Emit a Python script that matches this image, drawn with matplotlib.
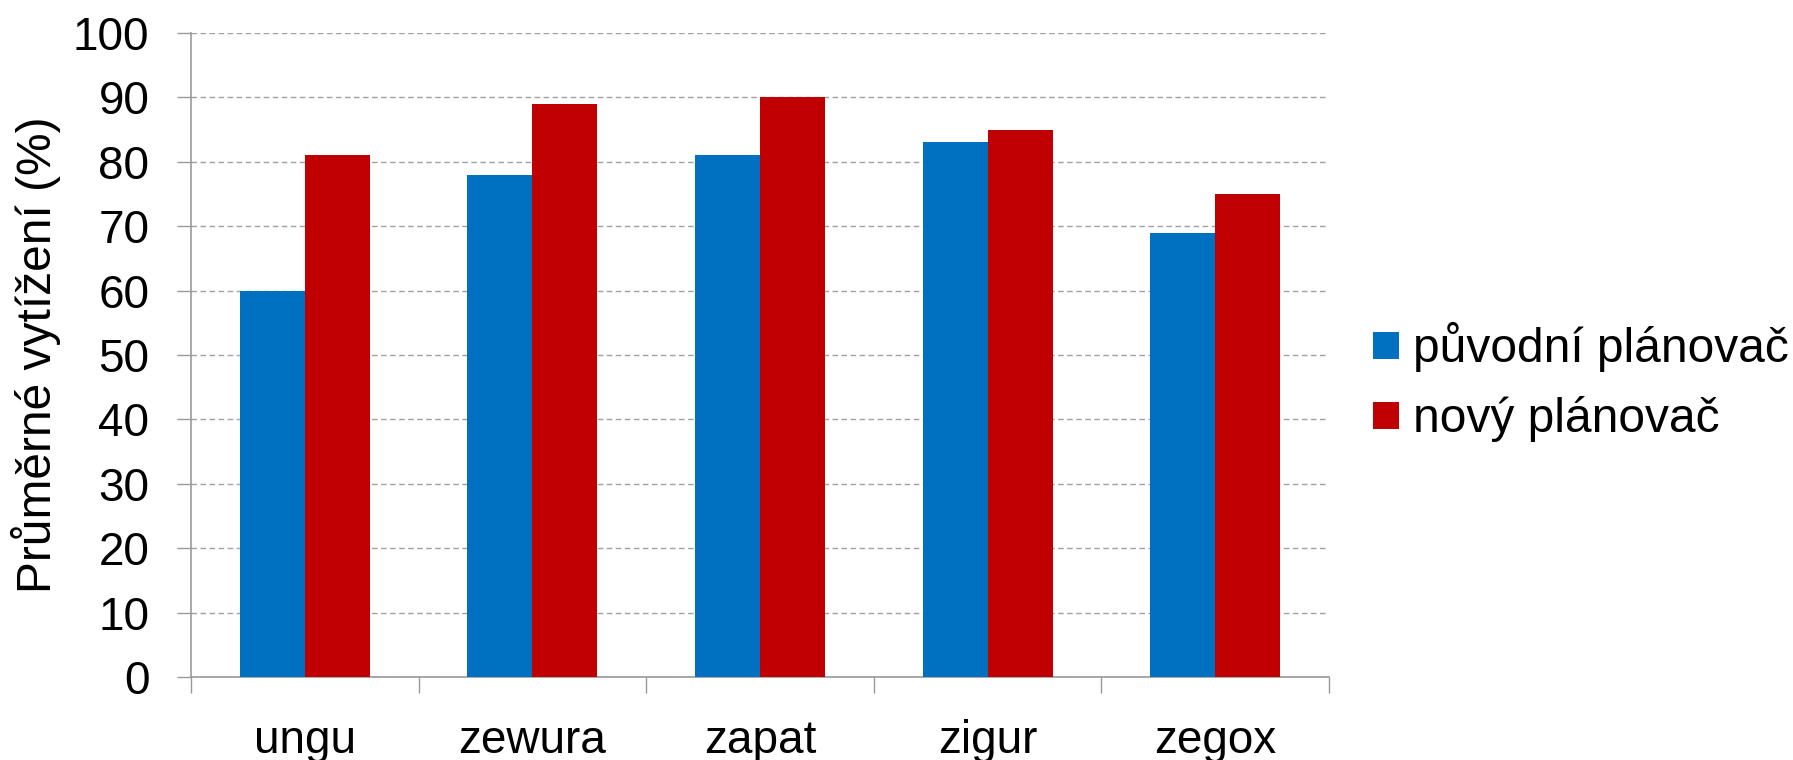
import matplotlib
matplotlib.use("Agg")
import matplotlib.pyplot as plt
import numpy as np

categories = ["ungu", "zewura", "zapat", "zigur", "zegox"]
puvodni = [60, 78, 81, 83, 69]
novy = [81, 89, 90, 85, 75]
series_names = ["původní plánovač", "nový plánovač"]
yticks = [0, 10, 20, 30, 40, 50, 60, 70, 80, 90, 100]
ylabel = "Průměrné vytížení (%)"

plt.rcParams['font.family'] = ['Liberation Sans', 'DejaVu Sans']

fig = plt.figure(figsize=(17.93, 7.60), dpi=100)
ax = fig.add_axes([0.1065, 0.1092, 0.6347, 0.8474])

x = np.arange(len(categories))
w = 1 / 3.5
blue = "#0070C0"
red = "#C00000"
ax.bar(x - w / 2, puvodni, width=w, color=blue, label=series_names[0], zorder=3)
ax.bar(x + w / 2, novy, width=w, color=red, label=series_names[1], zorder=3)

ax.set_xlim(-0.5, len(categories) - 0.5)
ax.set_ylim(0, 100)
ax.set_yticks(yticks)
ax.set_yticklabels([str(t) for t in yticks], fontsize=33)
ax.set_xticks(x)
ax.set_xticklabels(categories, fontsize=33)
ax.set_xticks(np.arange(len(categories) + 1) - 0.5, minor=True)

gray = "#999999"
ax.tick_params(axis='x', which='major', length=0, pad=30)
ax.tick_params(axis='x', which='minor', length=11.5, width=1, color=gray, direction='out')
ax.tick_params(axis='y', which='major', length=10, width=1, color=gray, direction='out', pad=20)

for s in ['top', 'right']:
    ax.spines[s].set_visible(False)
for s in ['left', 'bottom']:
    ax.spines[s].set_color(gray)
    ax.spines[s].set_linewidth(1.2)

ax.yaxis.grid(True, color="#a0a0a0", linewidth=1, linestyle=(0, (4, 2.5)))
ax.set_axisbelow(True)

ax.set_ylabel(ylabel, fontsize=34.5)
ax.yaxis.set_label_coords(-0.114, 0.5)

leg = fig.legend(loc='center left', bbox_to_anchor=(0.7658, 0.497), fontsize=34.5,
                 frameon=False, handlelength=0.54, handleheight=0.5,
                 handletextpad=0.3, labelspacing=0.5, borderaxespad=0, borderpad=0)

fig.savefig("out.png", dpi=100)
